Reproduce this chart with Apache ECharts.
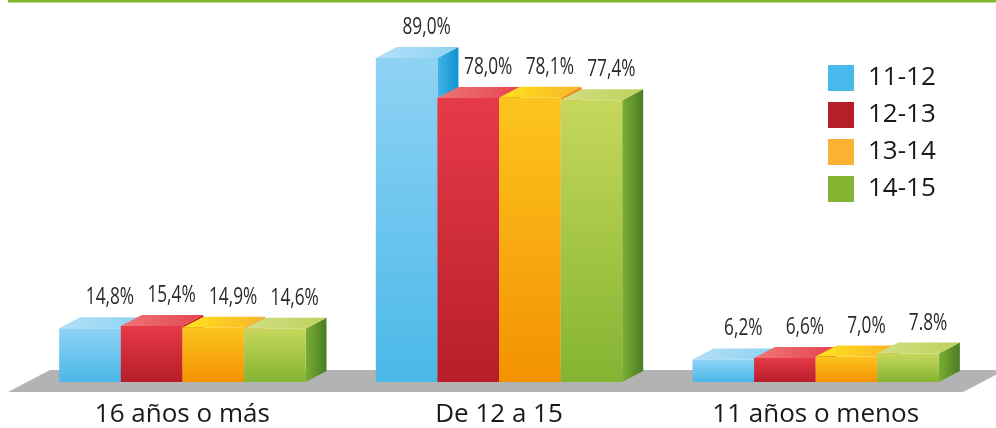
<!DOCTYPE html>
<html>
<head>
<meta charset="utf-8">
<script src="https://cdn.jsdelivr.net/npm/echarts@6/dist/echarts.min.js"></script>
<style>
  html, body { margin: 0; padding: 0; background: #fff; }
  #main { width: 996px; height: 428px; }
</style>
</head>
<body>
<div id="main"></div>
<script>
// categorias y series (porcentajes)
const categorias = ['16 años o más', 'De 12 a 15', '11 años o menos'];
const cursos = ['11-12', '12-13', '13-14', '14-15'];
const v1112 = [14.8, 89.0, 6.2];
const v1213 = [15.4, 78.0, 6.6];
const v1314 = [14.9, 78.1, 7.0];
const v1415 = [14.6, 77.4, 7.8];
// etiquetas tal como aparecen (una usa punto)
const et1112 = ['14,8%', '89,0%', '6,2%'];
const et1213 = ['15,4%', '78,0%', '6,6%'];
const et1314 = ['14,9%', '78,1%', '7,0%'];
const et1415 = ['14,6%', '77,4%', '7.8%'];

const valores = [v1112, v1213, v1314, v1415];
const etiquetas = [et1112, et1213, et1314, et1415];

// colores: leyenda, frente (arriba/abajo), cara superior, lateral
const colLeyenda = ['#47B9EA', '#B51F29', '#F9B233', '#84B532'];
const colFrente = [['#8FD3F4', '#4AB8E8'], ['#E73A48', '#B61E2A'], ['#FCC420', '#F39200'], ['#C6D75C', '#84B432']];
const colTapa = [['#B4E0F7', '#8ED2F2'], ['#EE7677', '#E64452'], ['#FFE41C', '#F8B32B'], ['#D2DE86', '#BCD25A']];
const colLado = [['#44B3E6', '#0E93D3'], ['#C52733', '#9E1820'], ['#F39A15', '#EE7A10'], ['#7AAE32', '#4B7B27']];

const chart = echarts.init(document.getElementById('main'));

const grad = (c) => new echarts.graphic.LinearGradient(0, 0, 0, 1, [
  { offset: 0, color: c[0] }, { offset: 1, color: c[1] }
]);
const gradH = (c) => new echarts.graphic.LinearGradient(0, 0, 1, 0, [
  { offset: 0, color: c[0] }, { offset: 1, color: c[1] }
]);

function barra3d(params, api) {
  const i = params.seriesIndex;
  const cat = api.value(0);
  const val = api.value(1);
  const base = api.coord([cat, 0]);
  const tope = api.coord([cat, val]);
  const banda = api.size([1, 0])[0];
  const bw = banda * 0.1945;
  const x0 = base[0] - bw * 2 + i * bw;
  const dx = 21, dy = -11;
  const y0 = tope[1], y1 = base[1];
  return {
    type: 'group',
    children: [
      {
        type: 'polygon',
        shape: { points: [[x0 + bw, y0], [x0 + bw + dx, y0 + dy], [x0 + bw + dx, y1 + dy], [x0 + bw, y1]] },
        style: { fill: gradH(colLado[i]) }
      },
      {
        type: 'polygon',
        shape: { points: [[x0, y0], [x0 + dx, y0 + dy], [x0 + bw + dx, y0 + dy], [x0 + bw, y0]] },
        style: { fill: gradH(colTapa[i]) }
      },
      {
        type: 'rect',
        shape: { x: x0, y: y0, width: bw, height: y1 - y0 },
        style: { fill: grad(colFrente[i]) }
      },
      {
        // etiqueta estrecha (fuente condensada simulada con scaleX)
        type: 'text',
        x: x0 + bw / 2 + 20,
        y: y0 + dy - 8,
        scaleX: 0.75,
        style: {
          text: etiquetas[i][params.dataIndex],
          x: 0,
          y: 0,
          align: 'center',
          verticalAlign: 'bottom',
          font: "23px 'Open Sans', sans-serif",
          fill: '#2a2a2a'
        }
      }
    ]
  };
}

const option = {
  animation: false,
  grid: { left: 24, right: 22, top: 18, bottom: 45 },
  legend: {
    orient: 'vertical',
    left: 828,
    top: 65,
    icon: 'rect',
    itemWidth: 26,
    itemHeight: 26,
    itemGap: 11,
    padding: 0,
    textStyle: { fontSize: 26, fontFamily: "'Open Sans', sans-serif", color: '#1a1a1a', padding: [0, 0, 0, 9] },
    data: cursos
  },
  xAxis: {
    type: 'category',
    data: categorias,
    axisLine: { show: false },
    axisTick: { show: false },
    axisLabel: { margin: 20, fontSize: 26, fontFamily: "'Open Sans', sans-serif", color: '#1a1a1a' }
  },
  yAxis: { type: 'value', min: 0, max: 100, show: false },
  graphic: [
    { type: 'rect', shape: { x: 8, y: 0, width: 988, height: 2.5 }, style: { fill: '#7BB829' }, z: -1 },
    { type: 'polygon', shape: { points: [[8, 392], [963, 392], [1005, 370], [50, 370]] }, style: { fill: '#B3B3B3' }, z: -1 }
  ],
  series: cursos.map((nombre, i) => ({
    name: nombre,
    type: 'custom',
    renderItem: barra3d,
    itemStyle: { color: colLeyenda[i] },
    encode: { x: 0, y: 1 },
    data: valores[i].map((v, k) => [k, v])
  }))
};

chart.setOption(option);
</script>
</body>
</html>
